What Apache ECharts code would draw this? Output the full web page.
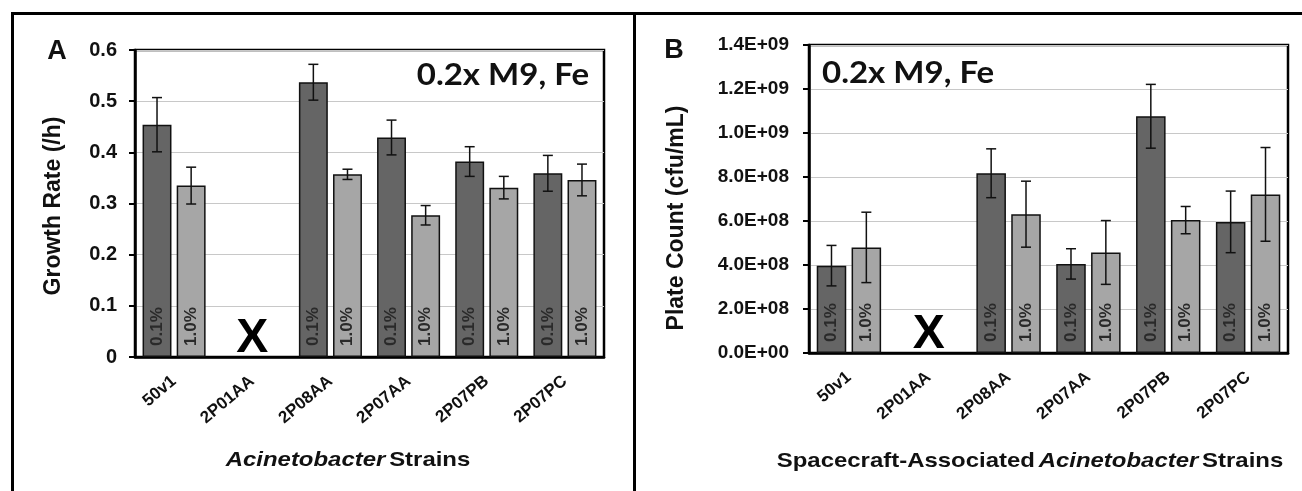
<!DOCTYPE html>
<html>
<head>
<meta charset="utf-8">
<script src="https://cdn.jsdelivr.net/npm/echarts@6/dist/echarts.min.js"></script>
<style>
    html, body { margin: 0; padding: 0; background: #fff; }
    #main { width: 1302px; height: 491px; }
</style>
</head>
<body>
<div id="main"></div>
<script>
    var strains = ['50v1', '2P01AA', '2P08AA', '2P07AA', '2P07PB', '2P07PC'];
    var seriesNames = ['0.1%', '1.0%'];
    var noGrowth = '2P01AA';

    // panel A: growth rate (/h)
    var rateLow = [0.454, null, 0.537, 0.429, 0.382, 0.359];
    var rateLowErr = [0.053, null, 0.035, 0.034, 0.029, 0.035];
    var rateHigh = [0.335, null, 0.357, 0.277, 0.331, 0.346];
    var rateHighErr = [0.036, null, 0.010, 0.019, 0.022, 0.031];

    // panel B: plate count (cfu/mL)
    var countLow = [3.97e8, null, 8.17e8, 4.05e8, 10.76e8, 5.96e8];
    var countLowErr = [0.92e8, null, 1.11e8, 0.69e8, 1.45e8, 1.40e8];
    var countHigh = [4.8e8, null, 6.31e8, 4.57e8, 6.04e8, 7.21e8];
    var countHighErr = [1.6e8, null, 1.5e8, 1.45e8, 0.62e8, 2.13e8];

    var FONT = '"Liberation Sans", Arial, sans-serif';
    var BAR_W = 0.37, BAR_GAP = 0.18;
    var colors = ['#656565', '#a6a6a6'];

    function sci(v) {
        if (v === 0) return '0.0E+00';
        var e = Math.floor(Math.log10(v) + 1e-9);
        var m = v / Math.pow(10, e);
        return m.toFixed(1) + 'E+' + (e < 10 ? '0' : '') + e;
    }

    function barSeries(idx, name, vals, color) {
        return {
            type: 'bar',
            name: name,
            xAxisIndex: idx,
            yAxisIndex: idx,
            data: vals.map(function (v) { return v == null ? '-' : v; }),
            barWidth: (BAR_W * 100) + '%',
            barGap: (BAR_GAP * 100) + '%',
            itemStyle: { color: color, borderColor: '#111', borderWidth: 1.5 },
            label: {
                show: true,
                position: 'insideBottom',
                rotate: 90,
                align: 'left',
                verticalAlign: 'middle',
                distance: 11,
                formatter: name,
                fontFamily: FONT,
                fontSize: 17,
                fontWeight: 'bold',
                color: '#2a2a2a'
            },
            silent: true
        };
    }

    function errSeries(idx, vals, errs, side) {
        var data = [];
        vals.forEach(function (v, i) {
            if (v != null) data.push([i, v, errs[i]]);
        });
        return {
            type: 'custom',
            xAxisIndex: idx,
            yAxisIndex: idx,
            z: 5,
            silent: true,
            encode: { x: 0, y: 1 },
            data: data,
            renderItem: function (params, api) {
                var i = api.value(0), v = api.value(1), e = api.value(2);
                var band = api.size([1, 0])[0];
                var bw = band * BAR_W;
                var off = side * (bw + bw * BAR_GAP) / 2;
                var top = api.coord([i, v + e]);
                var bot = api.coord([i, v - e]);
                var x = top[0] + off;
                var st = { stroke: '#111', lineWidth: 1.5 };
                return {
                    type: 'group',
                    children: [
                        { type: 'line', shape: { x1: x, y1: top[1], x2: x, y2: bot[1] }, style: st },
                        { type: 'line', shape: { x1: x - 5, y1: top[1], x2: x + 5, y2: top[1] }, style: st },
                        { type: 'line', shape: { x1: x - 5, y1: bot[1], x2: x + 5, y2: bot[1] }, style: st }
                    ]
                };
            }
        };
    }

    function crossSeries(idx) {
        return {
            type: 'custom',
            xAxisIndex: idx,
            yAxisIndex: idx,
            z: 6,
            silent: true,
            data: [[strains.indexOf(noGrowth), 0]],
            renderItem: function (params, api) {
                var p = api.coord([api.value(0), 0]);
                return {
                    type: 'text',
                    style: {
                        x: p[0], y: p[1] + 6, text: 'X',
                        font: 'bold 48px ' + FONT,
                        fill: '#000', align: 'center', verticalAlign: 'bottom'
                    }
                };
            }
        };
    }

    function xAxis(idx) {
        return {
            type: 'category',
            gridIndex: idx,
            data: strains,
            axisLine: { lineStyle: { color: '#000', width: 2.5 } },
            axisTick: { length: 7, lineStyle: { color: '#000', width: 2 } },
            axisLabel: {
                interval: 0, rotate: 40, margin: 22,
                fontFamily: FONT, fontSize: 17, fontWeight: 'bold', color: '#111'
            }
        };
    }

    function yAxis(idx, max, interval, fmt, size, margin) {
        return {
            type: 'value',
            gridIndex: idx,
            min: 0, max: max, interval: interval,
            axisLine: { show: true, lineStyle: { color: '#000', width: 2.5 } },
            axisTick: { show: true, length: 6, lineStyle: { color: '#000', width: 2 } },
            splitLine: { lineStyle: { color: '#c8c8c8', width: 1 } },
            axisLabel: {
                margin: margin, formatter: fmt,
                fontFamily: FONT, fontSize: size, fontWeight: 'bold', color: '#111'
            }
        };
    }

    // text helper; sx widens the glyphs like the stretched original
    function txt(x, y, text, font, align, sx, rot) {
        return {
            type: 'text', x: x, y: y, scaleX: sx || 1, rotation: rot || 0,
            style: { x: 0, y: 0, text: text, font: font, fill: '#111', align: align || 'center', verticalAlign: 'middle' }
        };
    }

    function richTxt(x, y, text, sx) {
        return {
            type: 'text', x: x, y: y, scaleX: sx,
            style: {
                text: text, align: 'center', verticalAlign: 'middle',
                rich: {
                    i: { font: 'italic bold 21px ' + FONT, fill: '#111' },
                    n: { font: 'bold 21px ' + FONT, fill: '#111' }
                }
            }
        };
    }

    const myChart = echarts.init(document.getElementById('main'));
    myChart.setOption({
        animation: false,
        backgroundColor: '#fff',
        grid: [
            { left: 135, top: 50, width: 469, height: 307, show: true, borderColor: '#000', borderWidth: 2.5 },
            { left: 809, top: 45, width: 479, height: 308, show: true, borderColor: '#000', borderWidth: 2.5 }
        ],
        xAxis: [xAxis(0), xAxis(1)],
        yAxis: [
            yAxis(0, 0.6, 0.1, function (v) { return v === 0 ? '0' : v.toFixed(1); }, 20, 18),
            yAxis(1, 1.4e9, 2e8, sci, 19, 20)
        ],
        series: [
            barSeries(0, seriesNames[0], rateLow, colors[0]),
            barSeries(0, seriesNames[1], rateHigh, colors[1]),
            errSeries(0, rateLow, rateLowErr, -1),
            errSeries(0, rateHigh, rateHighErr, 1),
            crossSeries(0),
            barSeries(1, seriesNames[0], countLow, colors[0]),
            barSeries(1, seriesNames[1], countHigh, colors[1]),
            errSeries(1, countLow, countLowErr, -1),
            errSeries(1, countHigh, countHighErr, 1),
            crossSeries(1)
        ],
        graphic: [
            // outer frame and divider
            { type: 'line', shape: { x1: 11, y1: 13.5, x2: 1302, y2: 13.5 }, style: { stroke: '#000', lineWidth: 3 } },
            { type: 'line', shape: { x1: 12.5, y1: 12, x2: 12.5, y2: 491 }, style: { stroke: '#000', lineWidth: 3 } },
            { type: 'line', shape: { x1: 634.5, y1: 12, x2: 634.5, y2: 491 }, style: { stroke: '#000', lineWidth: 3 } },
            txt(57, 52, 'A', 'bold 27px ' + FONT),
            txt(674, 51, 'B', 'bold 27px ' + FONT),
            txt(589, 75, '0.2x M9, Fe', 'bold 30px Lato, sans-serif', 'right', 1.1),
            txt(822, 73, '0.2x M9, Fe', 'bold 30px Lato, sans-serif', 'left', 1.1),
            txt(54, 206, 'Growth Rate (/h)', 'bold 23px ' + FONT, 'center', 1, Math.PI / 2),
            txt(677, 218, 'Plate Count (cfu/mL)', 'bold 23px ' + FONT, 'center', 1, Math.PI / 2),
            richTxt(348, 460, '{i|Acinetobacter} {n|Strains}', 1.14),
            richTxt(1030, 461, '{n|Spacecraft-Associated} {i|Acinetobacter} {n|Strains}', 1.14)
        ]
    });
</script>
</body>
</html>
